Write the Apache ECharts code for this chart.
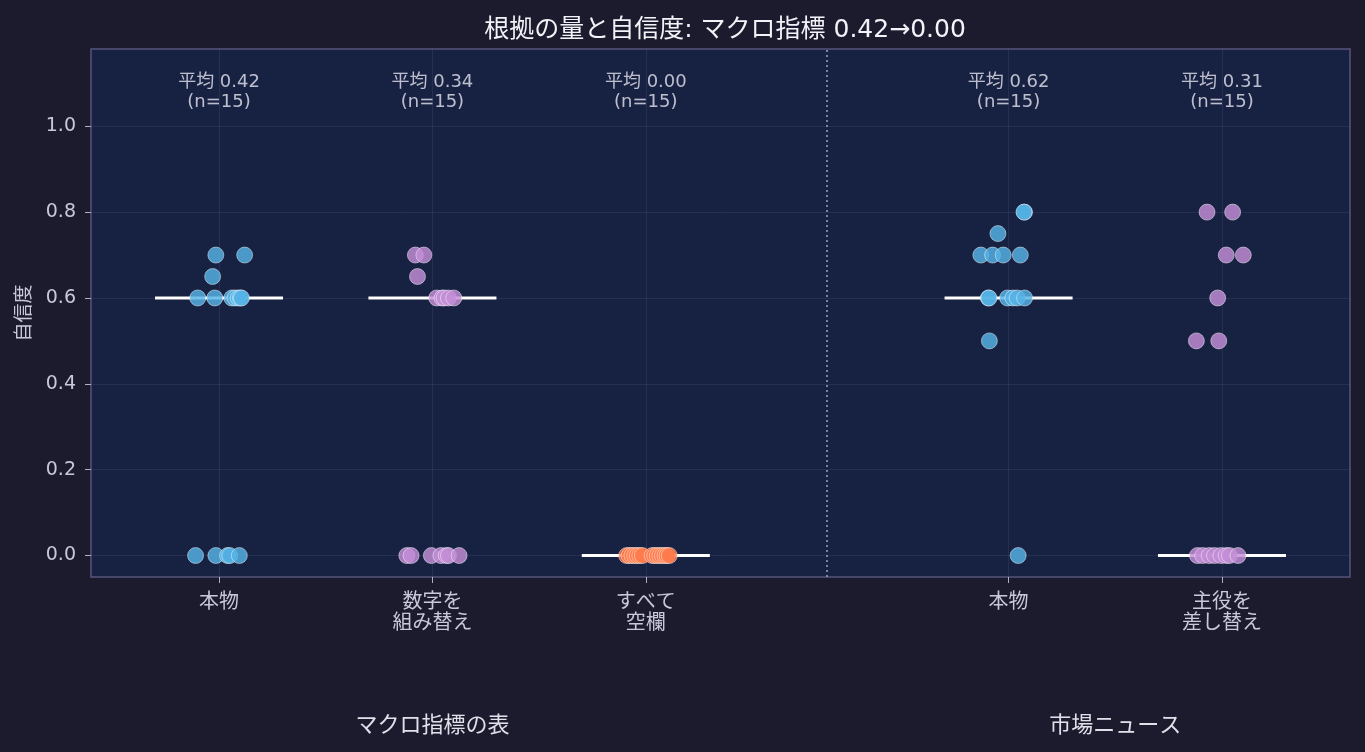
<!DOCTYPE html>
<html><head><meta charset="utf-8">
<script src="https://cdn.jsdelivr.net/npm/echarts@6/dist/echarts.min.js"></script>
<style>html,body{margin:0;padding:0;background:#1c1b2e;}#c{width:1365px;height:752px;}</style>
</head><body><div id="c"></div>
<script>
// ---- data ----
const categoryLabels = ['本物', '数字を\n組み替え', 'すべて\n空欄', '本物', '主役を\n差し替え'];
const categoryPositions = [0, 1, 2, 3.7, 4.7];
const groupNames = ['マクロ指標の表', '市場ニュース'];
const groupCenters = [1, 4.2];
const titleText = '根拠の量と自信度: マクロ指標 0.42→0.00';

const macroRealValues = [0.7, 0.7, 0.65, 0.6, 0.6, 0.6, 0.6, 0.6, 0.6, 0.6, 0, 0, 0, 0, 0];
const macroRealJitter = [-0.015, 0.12, -0.03, -0.10, -0.02, 0.06, 0.075, 0.09, 0.10, 0.105, -0.11, -0.015, 0.04, 0.05, 0.095];

const macroShuffledValues = [0.7, 0.7, 0.65, 0.6, 0.6, 0.6, 0.6, 0.6, 0, 0, 0, 0, 0, 0, 0];
const macroShuffledJitter = [-0.08, -0.04, -0.07, 0.02, 0.045, 0.055, 0.075, 0.10, -0.12, -0.10, -0.005, 0.04, 0.065, 0.075, 0.125];

const macroBlankValues = [0, 0, 0, 0, 0, 0, 0, 0, 0, 0, 0, 0, 0, 0, 0];
const macroBlankJitter = [-0.09, -0.078, -0.065, -0.052, -0.04, -0.028, -0.016, 0.03, 0.042, 0.054, 0.066, 0.078, 0.09, 0.10, 0.11];

const newsRealValues = [0.8, 0.8, 0.75, 0.7, 0.7, 0.7, 0.7, 0.6, 0.6, 0.6, 0.6, 0.6, 0.6, 0.5, 0];
const newsRealJitter = [0.075, 0.072, -0.05, -0.13, -0.075, -0.025, 0.055, -0.095, -0.092, -0.005, 0.02, 0.04, 0.075, -0.09, 0.045];

const newsSwapValues = [0.8, 0.8, 0.7, 0.7, 0.6, 0.5, 0.5, 0, 0, 0, 0, 0, 0, 0, 0];
const newsSwapJitter = [-0.07, 0.05, 0.02, 0.10, -0.02, -0.12, -0.015, -0.115, -0.09, -0.06, -0.035, -0.005, 0.02, 0.035, 0.075];

const yTicks = [0, 0.2, 0.4, 0.6, 0.8, 1.0];

// ---- helpers ----
const FONT = '"DejaVu Sans", "Noto Sans CJK JP", sans-serif';
const groups = [
  {v: macroRealValues, j: macroRealJitter, color: '#55b3e6'},
  {v: macroShuffledValues, j: macroShuffledJitter, color: '#c58fd8'},
  {v: macroBlankValues, j: macroBlankJitter, color: '#ff7b4c'},
  {v: newsRealValues, j: newsRealJitter, color: '#55b3e6'},
  {v: newsSwapValues, j: newsSwapJitter, color: '#c58fd8'}
];
function mean(a){return a.reduce((s,x)=>s+x,0)/a.length;}
function median(a){const s=[...a].sort((x,y)=>x-y);const n=s.length;return n%2?s[(n-1)/2]:(s[n/2-1]+s[n/2])/2;}

const series = [];
groups.forEach((g, i) => {
  const c = categoryPositions[i];
  const med = median(g.v);
  series.push({
    type: 'line', data: [[c - 0.3, med], [c + 0.3, med]], symbol: 'none',
    lineStyle: {color: '#ffffff', width: 3}, z: 3, silent: true
  });
  series.push({
    type: 'scatter', data: g.v.map((v, k) => [c + g.j[k], v]), symbolSize: 16,
    itemStyle: {color: g.color, opacity: 0.82, borderColor: 'rgba(255,255,255,0.55)', borderWidth: 1}, z: 4
  });
});
series.push({
  type: 'scatter', symbolSize: 0, silent: true,
  data: groups.map((g, i) => ({value: [categoryPositions[i], 1.079], m: mean(g.v), n: g.v.length})),
  label: {show: true, position: 'inside', color: '#e6e6f0', fontSize: 18, lineHeight: 20,
    fontFamily: FONT,
    formatter: p => '平均 ' + p.data.m.toFixed(2) + '\n(n=' + p.data.n + ')'},
  markLine: {silent: true, symbol: 'none', label: {show: false},
    lineStyle: {color: '#a0a0c0', type: [2, 3], width: 1.5},
    data: [{xAxis: (categoryPositions[2] + categoryPositions[3]) / 2}]}
});

const chart = echarts.init(document.getElementById('c'));
chart.setOption({
  backgroundColor: '#1c1b2e',
  animation: false,
  textStyle: {fontFamily: FONT},
  title: {text: titleText, left: 720, textAlign: 'center', top: 13,
    textStyle: {color: '#f2f2f8', fontSize: 25, fontWeight: 'normal', fontFamily: FONT}},
  grid: {left: 91, right: 15, top: 49, bottom: 175, show: true, backgroundColor: '#172142', borderColor: '#55557a', borderWidth: 1.5},
  xAxis: {
    type: 'value', min: -0.6, max: 5.3,
    axisLine: {show: false, onZero: false},
    axisTick: {show: true, length: 6, lineStyle: {color: '#b0b0c8'}, customValues: categoryPositions},
    axisLabel: {color: '#c8c8d8', fontSize: 20, lineHeight: 21, margin: 15, customValues: categoryPositions, fontFamily: FONT,
      formatter: v => { const i = categoryPositions.findIndex(c => Math.abs(c - v) < 1e-6); return i >= 0 ? categoryLabels[i] : ''; }},
    splitLine: {show: true, lineStyle: {color: 'rgba(140,150,190,0.13)'}}
  },
  yAxis: {
    type: 'value', min: -0.05, max: 1.18,
    name: '自信度', nameLocation: 'middle', nameGap: 53, nameRotate: 90,
    nameTextStyle: {color: '#c8c8d8', fontSize: 19, fontFamily: FONT},
    axisLine: {show: false, onZero: false},
    axisTick: {show: true, length: 6, lineStyle: {color: '#b0b0c8'}, customValues: yTicks},
    axisLabel: {color: '#c8c8d8', fontSize: 19, margin: 15, customValues: yTicks, fontFamily: FONT, formatter: v => v.toFixed(1)},
    splitLine: {show: true, lineStyle: {color: 'rgba(140,150,190,0.13)'}}
  },
  series: series
});
const gx = groupCenters.map(c => chart.convertToPixel({xAxisIndex: 0}, c));
chart.setOption({
  graphic: groupNames.map((t, i) => ({type: 'text', x: gx[i], y: 726,
    style: {text: t, fill: '#e0e0ea', fontSize: 22, align: 'center', verticalAlign: 'middle', fontFamily: FONT}}))
});
</script></body></html>
